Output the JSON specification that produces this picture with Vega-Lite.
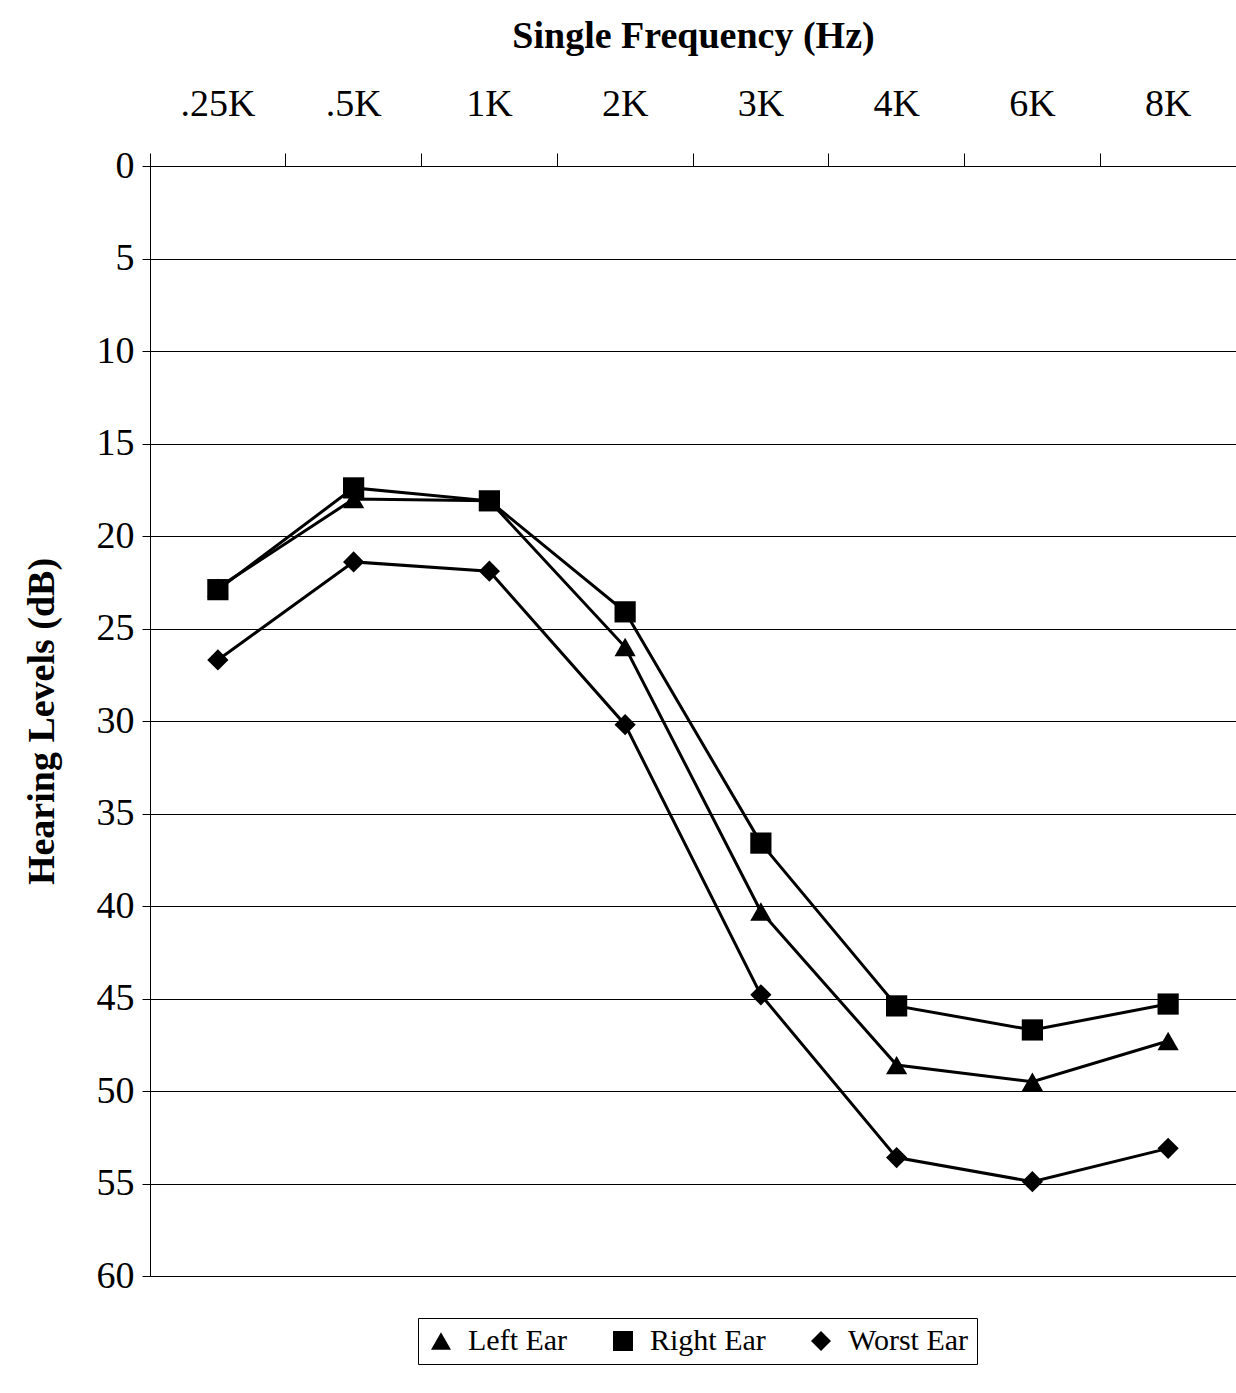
{
"$schema":"https://vega.github.io/schema/vega-lite/v6.json",
"width":1086,"height":1110,
"autosize":"none",
"padding":{"left":150,"top":166,"right":0,"bottom":117},
"background":"white",
"config":{"font":"Liberation Serif","view":{"stroke":null}},
"data":{"values":[
{"f":".25K","s":"Left Ear","v":22.8},{"f":".5K","s":"Left Ear","v":18.0},{"f":"1K","s":"Left Ear","v":18.1},{"f":"2K","s":"Left Ear","v":26.0},{"f":"3K","s":"Left Ear","v":40.3},{"f":"4K","s":"Left Ear","v":48.6},{"f":"6K","s":"Left Ear","v":49.5},{"f":"8K","s":"Left Ear","v":47.3},
{"f":".25K","s":"Right Ear","v":22.9},{"f":".5K","s":"Right Ear","v":17.4},{"f":"1K","s":"Right Ear","v":18.1},{"f":"2K","s":"Right Ear","v":24.1},{"f":"3K","s":"Right Ear","v":36.6},{"f":"4K","s":"Right Ear","v":45.4},{"f":"6K","s":"Right Ear","v":46.7},{"f":"8K","s":"Right Ear","v":45.3},
{"f":".25K","s":"Worst Ear","v":26.7},{"f":".5K","s":"Worst Ear","v":21.4},{"f":"1K","s":"Worst Ear","v":21.9},{"f":"2K","s":"Worst Ear","v":30.2},{"f":"3K","s":"Worst Ear","v":44.8},{"f":"4K","s":"Worst Ear","v":53.6},{"f":"6K","s":"Worst Ear","v":54.9},{"f":"8K","s":"Worst Ear","v":53.1}
]},
"encoding":{
"x":{"field":"f","type":"ordinal","sort":null,"scale":{"type":"band","paddingInner":0,"paddingOuter":0},
 "axis":{"orient":"top","title":"Single Frequency (Hz)","titleFontSize":38,"titleFontWeight":"bold","titlePadding":30,"labelFontSize":38,"labelAngle":0,"labelColor":"black","titleColor":"black","domainColor":"black","tickColor":"black","bandPosition":0,"tickSize":13,"labelPadding":30,"grid":false}},
"y":{"field":"v","type":"quantitative","scale":{"domain":[0,60],"reverse":true,"nice":false},
 "axis":{"values":[0,5,10,15,20,25,30,35,40,45,50,55,60],"title":"Hearing Levels (dB)","titleFontSize":38,"titleFontWeight":"bold","titleColor":"black","titlePadding":35,"labelFontSize":38,"labelColor":"black","domainColor":"black","tickColor":"black","gridColor":"black","gridWidth":1,"tickSize":8,"labelPadding":8}}
},
"layer":[
{"mark":{"type":"line","color":"black","strokeWidth":3},"encoding":{"detail":{"field":"s"}}},
{"mark":{"type":"point","filled":true,"color":"black","opacity":1,"size":450},
 "encoding":{"shape":{"field":"s","type":"nominal","scale":{"domain":["Left Ear","Right Ear","Worst Ear"],"range":["triangle-up","square","diamond"]},
 "legend":{"title":null,"orient":"none","legendX":268,"legendY":1152,"direction":"horizontal","labelFontSize":30,"labelColor":"black","symbolFillColor":"black","symbolStrokeColor":"black","symbolSize":400,"strokeColor":"black","padding":8,"columnPadding":40,"labelOffset":12}}}}
]
}
